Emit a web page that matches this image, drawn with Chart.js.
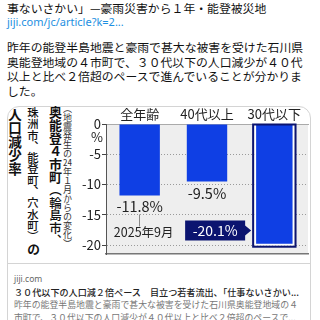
<!DOCTYPE html>
<html><head><meta charset="utf-8">
<script src="https://cdn.jsdelivr.net/npm/chart.js@4"></script>
<style>
html,body{margin:0;padding:0;width:320px;height:320px;overflow:hidden;background:#fff;font-family:"Noto Sans CJK JP","Noto Sans",sans-serif;color:#111;}
.abs{position:absolute;white-space:nowrap;}
.vt{position:absolute;writing-mode:vertical-rl;white-space:nowrap;}
.tcy{text-combine-upright:all;}
</style></head><body>
<div class="abs" style="left:7px;top:-1px;font-size:11.85px;line-height:18px;">事ないさかい」—豪雨災害から１年・能登被災地</div>
<div class="abs" style="left:7px;top:13px;font-size:11px;line-height:18px;color:#1d8fe1;font-family:'Noto Sans',sans-serif;">jiji.com/jc/article?k=2...</div>
<div class="abs" style="left:7px;top:40px;font-size:11.85px;line-height:14.6px;">昨年の能登半島地震と豪雨で甚大な被害を受けた石川県<br>奥能登地域の４市町で、３０代以下の人口減少が４０代<br>以上と比べ２倍超のペースで進んでいることが分かりま<br>した。</div>

<div style="position:absolute;left:7px;top:106px;width:302px;height:240px;border:1px solid #d4d4d4;border-radius:12px;"></div>
<div style="position:absolute;left:7px;top:263px;width:303px;height:1px;background:#d4d4d4;"></div>

<div class="vt" style="left:62px;top:104px;font-size:9px;line-height:10px;color:#333;">（地震発生の<span class="tcy">24</span>年１月からの変化）</div>
<div class="vt" style="left:47px;top:106px;font-size:12.5px;line-height:16px;"><b style="font-size:13px">奥能登４市町</b><span style="font-weight:500">（輪島市、</span></div>
<div class="vt" style="left:25px;top:107px;font-size:11.3px;line-height:16px;font-weight:500;">珠洲市、能登町、穴水町）<b style="font-size:13px">の</b></div>
<div class="vt" style="left:7px;top:108px;font-size:13.5px;line-height:16px;font-weight:bold;">人口減少率</div>

<div style="position:absolute;left:8px;top:107px;width:301px;height:156px;"><canvas id="c"></canvas></div>

<div class="abs" style="left:14px;top:272px;font-size:8.5px;line-height:13px;color:#666;font-family:'Noto Sans',sans-serif;">jiji.com</div>
<div class="abs" style="left:14px;top:286px;font-size:9.1px;line-height:13px;color:#222;font-weight:500;">３０代以下の人口減２倍ペース　目立つ若者流出、「仕事ないさかい...</div>
<div class="abs" style="left:14px;top:299px;font-size:8.9px;line-height:12.6px;color:#777;">昨年の能登半島地震と豪雨で甚大な被害を受けた石川県奥能登地域の４<br>市町で、３０代以下の人口減少が４０代以上と比べ２倍超のペースで...</div>

<script>
const categories = ['全年齢', '40代以上', '30代以下'];
const declineRates = [-11.8, -9.5, -20.1];
const yTickValues = [0, -5, -10, -15, -20];
const valueLabels = ['-11.8%', '-9.5%', '-20.1%'];
const dateLabel = '2025年9月';

const BLUE = '#0f3fe4';
const NAVY = '#0b1470';
const FONT = '"Noto Sans CJK JP", "Noto Sans", sans-serif';

const annot = {
  id: 'annot',
  beforeDraw(chart) {
    const {ctx, chartArea: a} = chart;
    ctx.save();
    ctx.fillStyle = '#eeeeee';
    ctx.fillRect(a.left, a.top, a.right - a.left, a.bottom - a.top);
    ctx.restore();
  },
  afterDatasetsDraw(chart) {
    const ctx = chart.ctx;
    const bars = chart.getDatasetMeta(0).data;
    const ys = chart.scales.y;
    ctx.save();
    // outline of third bar
    const b3 = bars[2];
    const l = b3.x - b3.width / 2, r = b3.x + b3.width / 2;
    ctx.strokeStyle = NAVY; ctx.lineWidth = 2;
    ctx.strokeRect(l - 1, b3.base, (r - l) + 2, b3.y - b3.base + 1);
    // value labels
    ctx.fillStyle = '#222'; ctx.textAlign = 'center'; ctx.textBaseline = 'middle';
    ctx.font = '14.5px ' + FONT;
    ctx.fillText(valueLabels[0], bars[0].x, bars[0].y + 11);
    ctx.fillText(valueLabels[1], bars[1].x, bars[1].y + 12);
    // connector
    ctx.strokeStyle = '#888'; ctx.lineWidth = 1;
    ctx.beginPath();
    ctx.moveTo(Math.round(bars[0].x) - 0.5, bars[0].y + 19);
    ctx.lineTo(Math.round(bars[0].x) - 0.5, bars[0].y + 31);
    ctx.stroke();
    // date label
    const yy = ys.getPixelForValue(-17.6);
    ctx.font = '12.5px ' + FONT; ctx.fillStyle = '#222';
    ctx.fillText(dateLabel, bars[0].x + 4, yy + 1.5);
    // navy tag
    const tip = l - 3, bx2 = tip - 6, bx1 = bx2 - 60;
    ctx.fillStyle = NAVY;
    ctx.beginPath();
    ctx.moveTo(bx1, yy - 10); ctx.lineTo(bx2, yy - 10); ctx.lineTo(bx2, yy - 5);
    ctx.lineTo(tip, yy); ctx.lineTo(bx2, yy + 5); ctx.lineTo(bx2, yy + 10);
    ctx.lineTo(bx1, yy + 10); ctx.closePath(); ctx.fill();
    ctx.fillStyle = '#fff'; ctx.font = '14px ' + FONT;
    ctx.fillText(valueLabels[2], (bx1 + bx2) / 2, yy + 0.5);
    // % under zero
    ctx.fillStyle = '#222'; ctx.font = '13px ' + FONT;
    ctx.fillText('%', ys.right - 9, ys.getPixelForValue(0) + 13);
    ctx.restore();
  }
};

new Chart(document.getElementById('c'), {
  type: 'bar',
  data: {
    labels: categories,
    datasets: [{
      data: declineRates,
      backgroundColor: BLUE,
      borderColor: ['rgba(0,0,0,0)', 'rgba(0,0,0,0)', '#ffffff'],
      borderWidth: [0, 0, 2],
      barPercentage: 0.6,
      categoryPercentage: 1
    }]
  },
  options: {
    responsive: true,
    maintainAspectRatio: false,
    animation: false,
    events: [],
    layout: { padding: { left: 60, right: 1, top: 0, bottom: 1.5 } },
    plugins: { legend: { display: false }, tooltip: { enabled: false } },
    scales: {
      x: {
        position: 'top',
        grid: { display: false, drawTicks: false },
        border: { display: true, color: '#aaaaaa', width: 1 },
        ticks: { color: '#222', font: { size: 13, family: FONT }, padding: 2, maxRotation: 0 },
        afterFit(s) { s.height = 17; }
      },
      x2: {
        position: 'bottom',
        type: 'category',
        labels: categories,
        grid: { display: false, drawTicks: false },
        border: { display: true, color: '#777777', width: 1.5 },
        ticks: { display: false },
        afterFit(s) { s.height = 0; }
      },
      y: {
        min: -21.5,
        max: 0,
        afterBuildTicks(s) { s.ticks = yTickValues.map(v => ({ value: v })); },
        grid: { color: '#9a9a9a', lineWidth: 1, tickLength: 4, tickColor: '#444', tickBorderDash: [] },
        border: { display: true, color: '#555555', width: 1, dash: [1, 2] },
        ticks: { color: '#222', font: { size: 13, family: FONT }, padding: 1, callback: v => String(v) },
        afterFit(s) { s.width = 38; }
      }
    }
  },
  plugins: [annot]
});
</script>
</body></html>
